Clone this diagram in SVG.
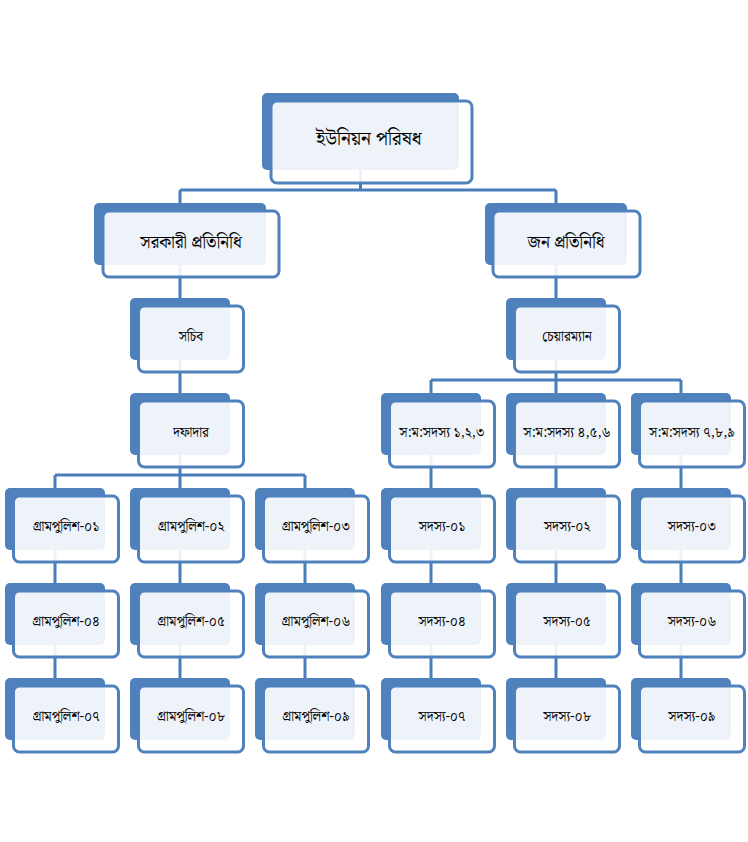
<svg xmlns="http://www.w3.org/2000/svg" width="748" height="842" viewBox="0 0 748 842">
<style>
.back{fill:#4F81BD}
.front{fill:#FFFFFF;fill-opacity:0.9;stroke:#4F81BD;stroke-width:3}
.conn{fill:none;stroke:#4A7EBB;stroke-width:3}
text{font-family:"Noto Serif Bengali","Lohit Bengali","Noto Sans Bengali","Vrinda","Noto Sans",sans-serif;font-weight:normal;fill:#000;text-anchor:middle;dominant-baseline:central}
.t1{font-size:19px}
.t2{font-size:17px}
.t3{font-size:13.5px}
</style>
<rect width="748" height="842" fill="#FFFFFF"/>
<g id="connectors" class="conn">
<path d="M360.5 170 V190 M180 190 H556 M180 190 V203 M556 190 V203"/>
<path d="M180 265 V298 M180 360 V393 M180 455 V475 M55 475 H305 M55 475 V488 M180 475 V488 M305 475 V488"/>
<path d="M556 265 V298 M556 360 V380 M431 380 H681 M431 380 V393 M556 380 V393 M681 380 V393"/>
<path d="M431 455 V488 M556 455 V488 M681 455 V488"/>
<path d="M55 550 V583 M180 550 V583 M305 550 V583 M431 550 V583 M556 550 V583 M681 550 V583"/>
<path d="M55 645 V678 M180 645 V678 M305 645 V678 M431 645 V678 M556 645 V678 M681 645 V678"/>
</g>
<g id="n-parishad"><rect class="back" x="262" y="93" width="197" height="77" rx="5"/><rect class="front" x="271" y="101" width="201" height="82" rx="6"/><text class="t1" x="369" y="139">ইউনিয়ন পরিষধ</text></g>
<g id="n-sarkari"><rect class="back" x="94" y="203" width="172" height="62" rx="5"/><rect class="front" x="103" y="211" width="176" height="66" rx="6"/><text class="t2" x="191" y="243">সরকারী প্রতিনিধি</text></g>
<g id="n-jan"><rect class="back" x="485" y="203" width="142" height="62" rx="5"/><rect class="front" x="493" y="211" width="147" height="66" rx="6"/><text class="t2" x="566" y="243">জন প্রতিনিধি</text></g>
<g id="n-sachib"><rect class="back" x="130" y="298" width="100" height="62" rx="5"/><rect class="front" x="138.5" y="306" width="105" height="66" rx="6"/><text class="t3" x="191" y="337">সচিব</text></g>
<g id="n-dafadar"><rect class="back" x="130" y="393" width="100" height="62" rx="5"/><rect class="front" x="138.5" y="401" width="105" height="66" rx="6"/><text class="t3" x="191" y="433">দফাদার</text></g>
<g id="n-chairman"><rect class="back" x="506" y="298" width="100" height="62" rx="5"/><rect class="front" x="514.5" y="306" width="105" height="66" rx="6"/><text class="t3" x="567" y="337">চেয়ারম্যান</text></g>
<g id="n-mem123"><rect class="back" x="381" y="393" width="100" height="62" rx="5"/><rect class="front" x="389.5" y="401" width="105" height="66" rx="6"/><text class="t3" x="442" y="433">স:ম:সদস্য ১,২,৩</text></g>
<g id="n-mem456"><rect class="back" x="506" y="393" width="100" height="62" rx="5"/><rect class="front" x="514.5" y="401" width="105" height="66" rx="6"/><text class="t3" x="567" y="433">স:ম:সদস্য ৪,৫,৬</text></g>
<g id="n-mem789"><rect class="back" x="631" y="393" width="100" height="62" rx="5"/><rect class="front" x="639.5" y="401" width="105" height="66" rx="6"/><text class="t3" x="692" y="433">স:ম:সদস্য ৭,৮,৯</text></g>
<g id="n-gp01"><rect class="back" x="5" y="488" width="100" height="62" rx="5"/><rect class="front" x="13.5" y="496" width="105" height="66" rx="6"/><text class="t3" x="66" y="527">গ্রামপুলিশ-০১</text></g>
<g id="n-gp02"><rect class="back" x="130" y="488" width="100" height="62" rx="5"/><rect class="front" x="138.5" y="496" width="105" height="66" rx="6"/><text class="t3" x="191" y="527">গ্রামপুলিশ-০২</text></g>
<g id="n-gp03"><rect class="back" x="255" y="488" width="100" height="62" rx="5"/><rect class="front" x="263.5" y="496" width="105" height="66" rx="6"/><text class="t3" x="316" y="527">গ্রামপুলিশ-০৩</text></g>
<g id="n-s01"><rect class="back" x="381" y="488" width="100" height="62" rx="5"/><rect class="front" x="389.5" y="496" width="105" height="66" rx="6"/><text class="t3" x="442" y="527">সদস্য-০১</text></g>
<g id="n-s02"><rect class="back" x="506" y="488" width="100" height="62" rx="5"/><rect class="front" x="514.5" y="496" width="105" height="66" rx="6"/><text class="t3" x="567" y="527">সদস্য-০২</text></g>
<g id="n-s03"><rect class="back" x="631" y="488" width="100" height="62" rx="5"/><rect class="front" x="639.5" y="496" width="105" height="66" rx="6"/><text class="t3" x="692" y="527">সদস্য-০৩</text></g>
<g id="n-gp04"><rect class="back" x="5" y="583" width="100" height="62" rx="5"/><rect class="front" x="13.5" y="591" width="105" height="66" rx="6"/><text class="t3" x="66" y="622">গ্রামপুলিশ-০৪</text></g>
<g id="n-gp05"><rect class="back" x="130" y="583" width="100" height="62" rx="5"/><rect class="front" x="138.5" y="591" width="105" height="66" rx="6"/><text class="t3" x="191" y="622">গ্রামপুলিশ-০৫</text></g>
<g id="n-gp06"><rect class="back" x="255" y="583" width="100" height="62" rx="5"/><rect class="front" x="263.5" y="591" width="105" height="66" rx="6"/><text class="t3" x="316" y="622">গ্রামপুলিশ-০৬</text></g>
<g id="n-s04"><rect class="back" x="381" y="583" width="100" height="62" rx="5"/><rect class="front" x="389.5" y="591" width="105" height="66" rx="6"/><text class="t3" x="442" y="622">সদস্য-০৪</text></g>
<g id="n-s05"><rect class="back" x="506" y="583" width="100" height="62" rx="5"/><rect class="front" x="514.5" y="591" width="105" height="66" rx="6"/><text class="t3" x="567" y="622">সদস্য-০৫</text></g>
<g id="n-s06"><rect class="back" x="631" y="583" width="100" height="62" rx="5"/><rect class="front" x="639.5" y="591" width="105" height="66" rx="6"/><text class="t3" x="692" y="622">সদস্য-০৬</text></g>
<g id="n-gp07"><rect class="back" x="5" y="678" width="100" height="62" rx="5"/><rect class="front" x="13.5" y="686" width="105" height="66" rx="6"/><text class="t3" x="66" y="717">গ্রামপুলিশ-০৭</text></g>
<g id="n-gp08"><rect class="back" x="130" y="678" width="100" height="62" rx="5"/><rect class="front" x="138.5" y="686" width="105" height="66" rx="6"/><text class="t3" x="191" y="717">গ্রামপুলিশ-০৮</text></g>
<g id="n-gp09"><rect class="back" x="255" y="678" width="100" height="62" rx="5"/><rect class="front" x="263.5" y="686" width="105" height="66" rx="6"/><text class="t3" x="316" y="717">গ্রামপুলিশ-০৯</text></g>
<g id="n-s07"><rect class="back" x="381" y="678" width="100" height="62" rx="5"/><rect class="front" x="389.5" y="686" width="105" height="66" rx="6"/><text class="t3" x="442" y="717">সদস্য-০৭</text></g>
<g id="n-s08"><rect class="back" x="506" y="678" width="100" height="62" rx="5"/><rect class="front" x="514.5" y="686" width="105" height="66" rx="6"/><text class="t3" x="567" y="717">সদস্য-০৮</text></g>
<g id="n-s09"><rect class="back" x="631" y="678" width="100" height="62" rx="5"/><rect class="front" x="639.5" y="686" width="105" height="66" rx="6"/><text class="t3" x="692" y="717">সদস্য-০৯</text></g>
</svg>
